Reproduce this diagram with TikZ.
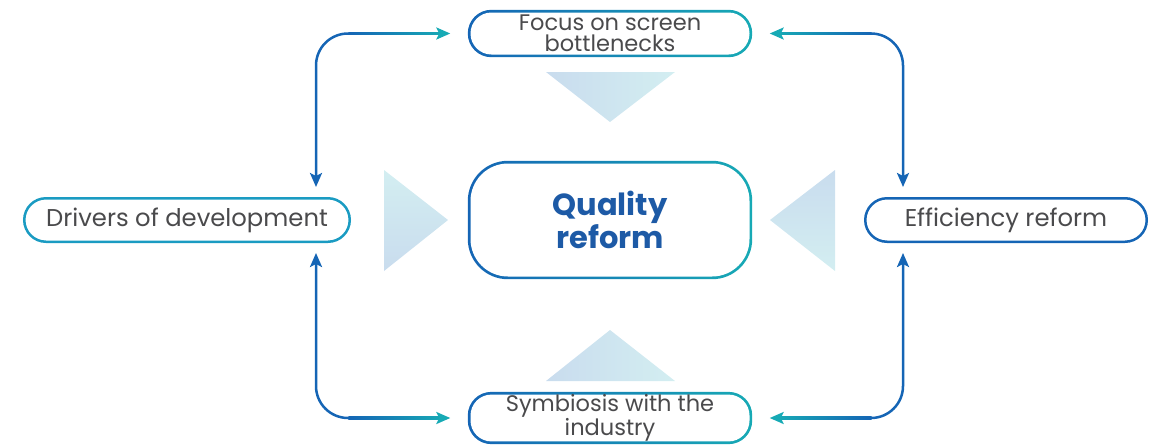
\documentclass[tikz,border=0pt]{standalone}
\usepackage{fontspec}
\setmainfont{Poppins}
\usetikzlibrary{arrows.meta,calc,backgrounds}
\definecolor{blueC}{HTML}{1565B5}
\definecolor{tealC}{HTML}{17AAB5}
\definecolor{drvC}{HTML}{1A9BC2}
\definecolor{txtC}{HTML}{4A4A4C}
\definecolor{qC}{HTML}{1D5AA6}
\definecolor{triA}{HTML}{C9DCEE}
\definecolor{triB}{HTML}{D3EEF1}
\tikzset{
  gbox/.style={fill=white, inner sep=0pt, align=center, text=txtC},
  pill/.style={gbox, minimum width=279pt, minimum height=42pt, rounded corners=21pt,
     font=\fontsize{22.5}{21}\selectfont},
  sbox/.style={draw, line width=2.5pt, inner sep=0pt, align=center, text=txtC,
     minimum height=43.5pt, rounded corners=21.75pt, font=\fontsize{24.3}{25}\selectfont},
  conn/.style={line width=2.5pt, blueC, rounded corners=32pt},
  mytip/.tip={Stealth[length=14pt,width=12pt,inset=3pt]},
}
\begin{document}
\begin{tikzpicture}[x=1pt,y=-1pt]
\useasboundingbox (0,0) rectangle (1161,445);

% triangles
\begin{scope}
\clip (546,72) -- (675,72) -- (610,122) -- cycle;
\shade[left color=triA, right color=triB] (546,72) rectangle (675,122);
\end{scope}
\begin{scope}
\clip (546,381) -- (675,381) -- (610,330) -- cycle;
\shade[left color=triA, right color=triB] (546,330) rectangle (675,381);
\end{scope}
\begin{scope}
\clip (384,170) -- (448,220) -- (384,271) -- cycle;
\shade[top color=triB, bottom color=triA] (384,170) rectangle (448,271);
\end{scope}
\begin{scope}
\clip (835,170) -- (770,220) -- (835,271) -- cycle;
\shade[top color=triA, bottom color=triB] (770,170) rectangle (835,271);
\end{scope}

% nodes
\node[pill] (top) at (610,33.5) {Focus on screen\\bottlenecks};
\node[pill] (bot) at (610,418) {\raisebox{-3pt}{\parbox{279pt}{\centering Symbiosis with the\\industry}}};
\node[gbox, minimum width=279pt, minimum height=113pt, rounded corners=37.5pt,
      text=qC, font=\fontsize{30.5}{33}\selectfont\bfseries] (q) at (610,220) {Quality\\reform};
\node[sbox, drvC, text=txtC, minimum width=325.5pt] (drv) at (187,220) {Drivers of development};
\node[sbox, blueC, text=txtC, minimum width=281.5pt] (eff) at (1006,220) {Efficiency reform};

\begin{scope}[on background layer]
\shade[left color=blueC, right color=tealC, rounded corners=23.5pt]
  ($(top.south west)+(-2.5pt,-2.5pt)$) rectangle ($(top.north east)+(2.5pt,2.5pt)$);
\shade[left color=blueC, right color=tealC, rounded corners=23.5pt]
  ($(bot.south west)+(-2.5pt,-2.5pt)$) rectangle ($(bot.north east)+(2.5pt,2.5pt)$);
\shade[left color=blueC, right color=tealC, rounded corners=40pt]
  ($(q.south west)+(-2.5pt,-2.5pt)$) rectangle ($(q.north east)+(2.5pt,2.5pt)$);
\end{scope}

% connector corners
\coordinate (lx) at (316,0);
\coordinate (rx) at (903,0);

% top-left
\draw[conn, {mytip}-] ($(drv.north -| lx)+(0,10pt)$) |- ($(top.west)+(-40pt,0)$);
\shade[left color=blueC, right color=tealC] ($(top.west)+(-122pt,-1.25pt)$) rectangle ($(top.west)+(-26pt,1.25pt)$);
\draw[line width=2.5pt, tealC, -{mytip}] ($(top.west)+(-27pt,0)$) -- ($(top.west)+(-20pt,0)$);
% top-right
\draw[conn, {mytip}-] ($(eff.north -| rx)+(0,10pt)$) |- ($(top.east)+(40pt,0)$);
\shade[right color=blueC, left color=tealC] ($(top.east)+(26pt,-1.25pt)$) rectangle ($(top.east)+(122pt,1.25pt)$);
\draw[line width=2.5pt, tealC, -{mytip}] ($(top.east)+(27pt,0)$) -- ($(top.east)+(20pt,0)$);
% bottom-left
\draw[conn, {mytip}-] ($(drv.south -| lx)+(0,-10pt)$) |- ($(bot.west)+(-40pt,0)$);
\shade[left color=blueC, right color=tealC] ($(bot.west)+(-122pt,-1.25pt)$) rectangle ($(bot.west)+(-26pt,1.25pt)$);
\draw[line width=2.5pt, tealC, -{mytip}] ($(bot.west)+(-27pt,0)$) -- ($(bot.west)+(-20pt,0)$);
% bottom-right
\draw[conn, {mytip}-] ($(eff.south -| rx)+(0,-10pt)$) |- ($(bot.east)+(40pt,0)$);
\shade[right color=blueC, left color=tealC] ($(bot.east)+(26pt,-1.25pt)$) rectangle ($(bot.east)+(122pt,1.25pt)$);
\draw[line width=2.5pt, tealC, -{mytip}] ($(bot.east)+(27pt,0)$) -- ($(bot.east)+(20pt,0)$);
\end{tikzpicture}
\end{document}
